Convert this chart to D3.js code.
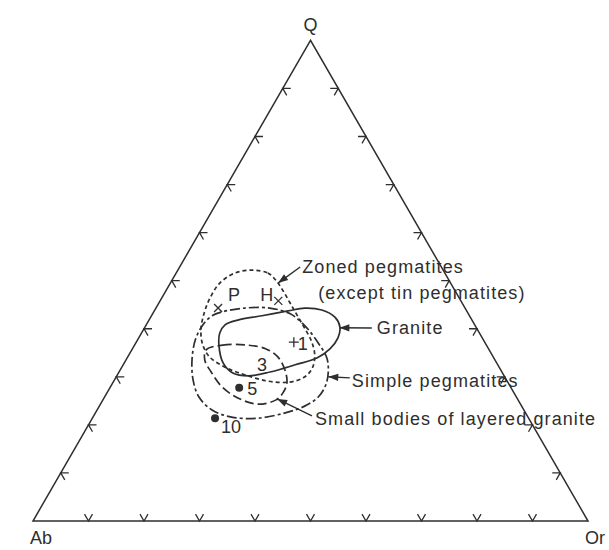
<!DOCTYPE html>
<html>
<head>
<meta charset="utf-8">
<script src="https://cdn.jsdelivr.net/npm/d3@7"></script>
<style>
  html, body { margin: 0; padding: 0; background: #fff; }
  svg { display: block; }
  text { font-family: "Liberation Sans", Arial, Helvetica, sans-serif; fill: #2e2e2e; }
</style>
</head>
<body>
<svg id="chart" width="609" height="550"></svg>
<script>
// Ternary compositions, percent [Q, Ab, Or]
const vertexLabels = ["Q", "Ab", "Or"];
const tickValues = [10, 20, 30, 40, 50, 60, 70, 80, 90];

const granite = [
  [36.6, 48.2, 15.2], [39.1, 46.8, 14.1], [40.8, 45.0, 14.2], [41.8, 42.2, 16.0],
  [42.7, 37.4, 19.9], [43.7, 32.2, 24.1], [44.3, 28.9, 26.8], [43.9, 26.0, 30.1],
  [42.4, 24.4, 33.2], [40.4, 24.5, 35.1], [38.1, 26.0, 35.9], [35.8, 28.6, 35.6],
  [33.9, 31.9, 34.2], [32.5, 36.5, 31.0], [31.0, 41.8, 27.2], [30.2, 46.1, 23.7],
  [30.8, 48.6, 20.6], [32.9, 49.3, 17.8]
];

const zonedPegmatites = [
  [52.2, 34.4, 13.4], [51.6, 31.9, 16.5], [50.1, 31.2, 18.7], [47.9, 31.0, 21.1],
  [45.4, 31.0, 23.6], [42.9, 31.0, 26.1], [40.2, 31.0, 28.8], [37.5, 31.1, 31.4],
  [34.7, 31.9, 33.4], [32.0, 33.6, 34.4], [30.0, 36.0, 34.0], [28.9, 39.3, 31.8],
  [29.1, 43.1, 27.8], [30.4, 46.6, 23.0], [32.0, 49.4, 18.6], [34.1, 51.1, 14.8],
  [36.6, 51.1, 12.3], [39.7, 49.9, 10.4], [43.3, 47.5, 9.2], [46.4, 44.9, 8.7],
  [49.5, 41.6, 8.9], [51.6, 37.8, 10.6]
];

const simplePegmatites = [
  [40.8, 49.0, 10.2], [42.7, 46.4, 10.9], [43.5, 44.2, 12.3], [44.3, 39.7, 16.0],
  [44.3, 35.2, 20.5], [43.1, 32.1, 24.8], [40.6, 30.7, 28.7], [37.2, 30.1, 32.7],
  [33.9, 30.1, 36.0], [31.0, 31.3, 37.7], [28.3, 33.1, 38.6], [25.8, 35.7, 38.5],
  [23.9, 39.1, 37.0], [22.5, 43.3, 34.2], [21.4, 48.8, 29.8], [21.6, 53.4, 25.0],
  [23.1, 56.2, 20.7], [25.8, 57.2, 17.0], [29.3, 56.5, 14.2], [33.5, 54.6, 11.9],
  [37.7, 51.9, 10.4]
];

const layeredGranite = [
  [35.6, 51.0, 13.4], [36.6, 47.5, 15.9], [36.6, 43.1, 20.3], [35.8, 40.1, 24.1],
  [34.1, 38.8, 27.1], [31.4, 38.9, 29.7], [28.7, 39.9, 31.4], [26.6, 41.7, 31.7],
  [25.2, 43.6, 31.2], [24.3, 47.3, 28.4], [25.6, 50.3, 24.1], [27.9, 52.0, 20.1],
  [31.0, 52.4, 16.6], [33.5, 52.3, 14.2]
];

const pointNames = ["P", "H", "1", "3", "5", "10"];
const pointComps = [
  [44.3, 44.5, 11.2], [45.8, 32.9, 21.3], [37.2, 34.4, 28.4],
  [32.3, 42.6, 25.1], [27.7, 49.0, 23.3], [21.4, 56.5, 22.1]
];
const pointMarkers = ["x", "x", "+", "none", "dot", "dot"];

const fieldNames = [
  ["Zoned pegmatites", "(except tin pegmatites)"],
  ["Granite"],
  ["Simple pegmatites"],
  ["Small bodies of layered granite"]
];
// where each field's label sits, and the point on the field boundary its arrow reaches
const fieldLabelAt = [[51.6, 25.7, 22.7], [38.9, 18.6, 42.5], [27.9, 28.6, 43.5], [20.0, 39.2, 40.8]];
const fieldArrowTip = [[49.5, 31.1, 19.4], [40.2, 24.7, 35.1], [30.0, 31.8, 38.2], [25.4, 43.3, 31.3]];

// ---- layout ----
const svg = d3.select("#chart");
const ink = "#2e2e2e";
const left = 33, right = 588, base = 521;
const side = right - left;
const height = side * Math.sqrt(3) / 2;

const orScale = d3.scaleLinear().domain([0, 100]).range([left, right]);
const qScale = d3.scaleLinear().domain([0, 100]).range([base, base - height]);
const qShift = d3.scaleLinear().domain([0, 100]).range([0, side / 2]);

function proj(c) {
  const q = c[0], or = c[2];
  return [orScale(or) + qShift(q), qScale(q)];
}

const g = svg.append("g");

// triangle frame
const corners = [[100, 0, 0], [0, 100, 0], [0, 0, 100]].map(proj);
g.append("path")
  .attr("d", d3.line()(corners) + "Z")
  .attr("fill", "none").attr("stroke", ink).attr("stroke-width", 1.5)
  .attr("stroke-linejoin", "miter");

// edge ticks: chevrons pointing along the two other grid directions, into the triangle
const tickLen = 8;
const deg = Math.PI / 180;
function chevron(p, a1, a2) {
  return d3.line()([
    [p[0] + tickLen * Math.cos(a1), p[1] + tickLen * Math.sin(a1)],
    p,
    [p[0] + tickLen * Math.cos(a2), p[1] + tickLen * Math.sin(a2)]
  ]);
}
const ticks = [];
tickValues.forEach(v => {
  ticks.push(chevron(proj([0, 100 - v, v]), -60 * deg, -120 * deg));   // Ab–Or edge
  ticks.push(chevron(proj([v, 100 - v, 0]), 0, 60 * deg));             // Ab–Q edge
  ticks.push(chevron(proj([v, 0, 100 - v]), 180 * deg, 120 * deg));    // Q–Or edge
});
g.selectAll("path.tick").data(ticks).join("path")
  .attr("class", "tick").attr("d", d => d)
  .attr("fill", "none").attr("stroke", ink).attr("stroke-width", 1.3);

// vertex labels
const vFont = 18;
g.append("text").text(vertexLabels[0])
  .attr("x", proj([100, 0, 0])[0]).attr("y", proj([100, 0, 0])[1] - 9)
  .attr("text-anchor", "middle").attr("font-size", vFont);
g.append("text").text(vertexLabels[1])
  .attr("x", proj([0, 100, 0])[0] - 3).attr("y", base + 23)
  .attr("text-anchor", "start").attr("font-size", vFont);
g.append("text").text(vertexLabels[2])
  .attr("x", proj([0, 0, 100])[0] - 3).attr("y", base + 23)
  .attr("text-anchor", "start").attr("font-size", vFont);

// field boundaries
const closed = d3.line().curve(d3.curveCatmullRomClosed.alpha(0.5));
const fields = [
  { pts: zonedPegmatites, dash: "4,3" },
  { pts: granite, dash: null },
  { pts: simplePegmatites, dash: "10,3,3,3" },
  { pts: layeredGranite, dash: "9,4" }
];
g.selectAll("path.field").data(fields).join("path")
  .attr("class", "field")
  .attr("d", d => closed(d.pts.map(proj)))
  .attr("fill", "none").attr("stroke", ink).attr("stroke-width", 1.7)
  .attr("stroke-dasharray", d => d.dash);

// sample points
const pts = pointNames.map((n, i) => ({ name: n, p: proj(pointComps[i]), m: pointMarkers[i] }));
const labelOffset = { "P": [10, -7, "start"], "H": [-18, 0, "start"], "1": [4, 8, "start"],
                      "3": [0, 5, "middle"], "5": [8, 7, "start"], "10": [6, 15, "start"] };
pts.forEach(d => {
  const [x, y] = d.p;
  if (d.m === "x") {
    const s = 4;
    g.append("path").attr("d", `M${x - s},${y - s}L${x + s},${y + s}M${x - s},${y + s}L${x + s},${y - s}`)
      .attr("stroke", ink).attr("stroke-width", 1.3);
  } else if (d.m === "+") {
    const s = 5;
    g.append("path").attr("d", `M${x - s},${y}L${x + s},${y}M${x},${y - s}L${x},${y + s}`)
      .attr("stroke", ink).attr("stroke-width", 1.3);
  } else if (d.m === "dot") {
    g.append("circle").attr("cx", x).attr("cy", y).attr("r", 4).attr("fill", ink);
  }
  const o = labelOffset[d.name];
  g.append("text").text(d.name)
    .attr("x", x + o[0]).attr("y", y + o[1])
    .attr("text-anchor", o[2]).attr("font-size", 18);
});

// field labels with arrows
const tailOffset = [[-2, -6], [-5, -6], [-2, -9], [-3, -9]];
const lineGap = 26;
fieldNames.forEach((lines, i) => {
  const a = proj(fieldLabelAt[i]);
  lines.forEach((t, j) => {
    g.append("text").text(t)
      .attr("x", a[0] + (j ? 16 : 0)).attr("y", a[1] + j * lineGap)
      .attr("font-size", 18).attr("letter-spacing", 1.1);
  });
  const tail = [a[0] + tailOffset[i][0], a[1] + tailOffset[i][1]];
  const tip = proj(fieldArrowTip[i]);
  g.append("line")
    .attr("x1", tail[0]).attr("y1", tail[1]).attr("x2", tip[0]).attr("y2", tip[1])
    .attr("stroke", ink).attr("stroke-width", 1.4);
  const ang = Math.atan2(tip[1] - tail[1], tip[0] - tail[0]);
  const L = 10, W = 3.6;
  const bx = tip[0] - L * Math.cos(ang), by = tip[1] - L * Math.sin(ang);
  g.append("path")
    .attr("d", d3.line()([
      tip,
      [bx + W * Math.sin(ang), by - W * Math.cos(ang)],
      [bx - W * Math.sin(ang), by + W * Math.cos(ang)]
    ]) + "Z")
    .attr("fill", ink);
});
</script>
</body>
</html>
